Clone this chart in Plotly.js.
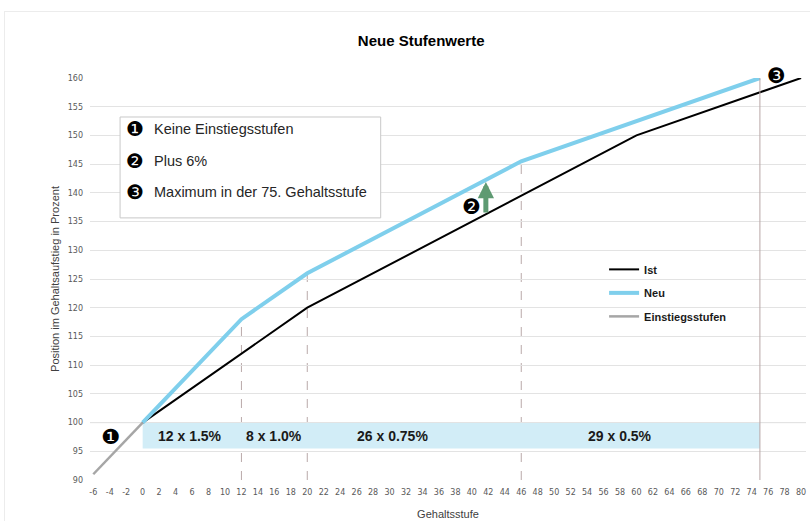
<!DOCTYPE html>
<html>
<head>
<meta charset="utf-8">
<script src="https://cdn.plot.ly/plotly-3.0.1.min.js"></script>
<style>
  html, body { margin: 0; padding: 0; background: #fff; }
  #frame { position: absolute; left: 4px; top: 11px; width: 820px; height: 530px; border: 1px solid #ececec; }
  #chart { position: absolute; left: 0; top: 0; width: 810px; height: 521px; }
</style>
</head>
<body>
<div id="frame"></div>
<div id="chart"></div>
<script>
// Data
const istX = [0, 20, 60, 80];
const istY = [100, 120, 150, 160];
const neuX = [0, 12, 20, 46, 75];
const neuY = [100, 118, 126, 145.5, 160];
const einX = [-6, 0];
const einY = [91, 100];
const bandLabels = ['12 x 1.5%', '8 x 1.0%', '26 x 0.75%', '29 x 0.5%'];
const bandLabelX = [5.8, 16, 30.4, 58];
const dashX = [12, 20, 46];
const dashTop = [118, 126, 145.5];
const maxStufe = 75;
const noteNums = ['\u2776', '\u2777', '\u2778'];
const noteTexts = ['Keine Einstiegsstufen', 'Plus 6%', 'Maximum in der 75. Gehaltsstufe'];
const xTickVals = [-6, -4, -2];
for (let v = 0; v <= 80; v += 2) xTickVals.push(v);
const xTickText = xTickVals.map(v => String(v));

const traces = [
  {x: istX, y: istY, name: 'Ist', mode: 'lines', line: {color: '#000000', width: 2}, legendgroup: 'a'},
  {x: neuX, y: neuY, name: 'Neu', mode: 'lines', line: {color: '#7fcfec', width: 4}, legendgroup: 'b'},
  {x: einX, y: einY, name: 'Einstiegsstufen', mode: 'lines', line: {color: '#a6a6a6', width: 2.5}, legendgroup: 'c'}
];

const shapes = [];
// dashed verticals
dashX.forEach((xv, i) => {
  shapes.push({type: 'line', xref: 'x', yref: 'y', x0: xv, x1: xv, y0: 90, y1: dashTop[i],
    line: {color: '#b9a9a9', width: 1, dash: 'dash'}, layer: 'below'});
});
// line at 100
shapes.push({type: 'line', xref: 'paper', yref: 'y', x0: 0, x1: 1, y0: 100, y1: 100,
  line: {color: '#a8a8a8', width: 1}, layer: 'below'});
// light blue band (covers dashed lines)
shapes.push({type: 'rect', xref: 'x', yref: 'y', x0: 0, x1: maxStufe, y0: 95.5, y1: 100,
  fillcolor: '#d2edf7', line: {width: 0}, layer: 'below'});
// maximum vertical
shapes.push({type: 'line', xref: 'x', yref: 'y', x0: maxStufe, x1: maxStufe, y0: 89.6, y1: 160,
  line: {color: '#b8a6a6', width: 1}, layer: 'above'});
// notes box
shapes.push({type: 'rect', xref: 'paper', yref: 'paper', x0: 0.042, x1: 0.406, y0: 0.652, y1: 0.903,
  fillcolor: '#ffffff', line: {color: '#c8c8c8', width: 1}, layer: 'above'});

const annotations = [];
bandLabels.forEach((t, i) => {
  annotations.push({x: bandLabelX[i], y: 97.6, xref: 'x', yref: 'y', text: t, showarrow: false,
    font: {family: 'Liberation Sans, Arial, sans-serif', size: 14, color: '#1a1a1a', weight: 'bold'}});
});
const noteY = [0.872, 0.793, 0.716];
noteTexts.forEach((t, i) => {
  annotations.push({x: 0.0635, y: noteY[i], xref: 'paper', yref: 'paper', text: noteNums[i], showarrow: false,
    xanchor: 'center', yanchor: 'middle',
    font: {family: 'DejaVu Sans', size: 20, color: '#000'}});
  annotations.push({x: 0.0865, y: noteY[i], xref: 'paper', yref: 'paper', text: t, showarrow: false,
    xanchor: 'left', yanchor: 'middle',
    font: {family: 'Liberation Sans, Arial, sans-serif', size: 14.5, color: '#262626'}});
});
// green arrow
annotations.push({x: 41.7, y: 141.9, ax: 41.7, ay: 136.3, xref: 'x', yref: 'y', axref: 'x', ayref: 'y',
  showarrow: true, arrowhead: 2, arrowsize: 0.65, arrowwidth: 5, arrowcolor: '#5e9a72', text: ''});
// circled markers
annotations.push({x: -3.9, y: 97.5, xref: 'x', yref: 'y', text: '\u2776', showarrow: false,
  xanchor: 'center', yanchor: 'middle',
  font: {family: 'DejaVu Sans', size: 21, color: '#000'}});
annotations.push({x: 39.9, y: 137.5, xref: 'x', yref: 'y', text: '\u2777', showarrow: false,
  xanchor: 'center', yanchor: 'middle',
  font: {family: 'DejaVu Sans', size: 21, color: '#000'}});
annotations.push({x: 77.0, y: 1.006, xref: 'x', yref: 'paper', text: '\u2778', showarrow: false,
  xanchor: 'center', yanchor: 'middle',
  font: {family: 'DejaVu Sans', size: 21, color: '#000'}});

const layout = {
  width: 810, height: 521,
  paper_bgcolor: 'rgba(0,0,0,0)', plot_bgcolor: 'rgba(0,0,0,0)',
  margin: {l: 90, r: 4, t: 78, b: 41},
  title: {text: 'Neue Stufenwerte', x: 0.52, xref: 'container', y: 0.921, yref: 'container', yanchor: 'middle',
    font: {family: 'Liberation Sans, Arial, sans-serif', size: 15, color: '#000', weight: 'bold'}},
  xaxis: {range: [-6.4, 80.6], tickmode: 'array', tickvals: xTickVals, ticktext: xTickText,
    showgrid: false, zeroline: false, showline: false,
    ticks: '', ticklabelstandoff: 6, tickfont: {family: 'DejaVu Sans', size: 8, color: '#595959'},
    title: {text: 'Gehaltsstufe', standoff: 14, font: {family: 'Liberation Sans, Arial, sans-serif', size: 11, color: '#404040'}}},
  yaxis: {range: [90, 160], dtick: 5, showgrid: true, gridcolor: '#e3e3e3', gridwidth: 1, zeroline: false, showline: false,
    ticks: '', ticklabelstandoff: 6, tickfont: {family: 'DejaVu Sans', size: 8, color: '#595959'},
    title: {text: 'Position im Gehaltsaufstieg in Prozent', standoff: 5, font: {family: 'Liberation Sans, Arial, sans-serif', size: 11, color: '#404040'}}},
  showlegend: true,
  legend: {x: 0.718, y: 0.56, xanchor: 'left', yanchor: 'top', bgcolor: 'rgba(0,0,0,0)',
    traceorder: 'grouped', tracegroupgap: 4.5,
    font: {family: 'Liberation Sans, Arial, sans-serif', size: 11, color: '#1a1a1a', weight: 'bold'}},
  shapes: shapes,
  annotations: annotations
};

Plotly.newPlot('chart', traces, layout, {displayModeBar: false, staticPlot: true});
</script>
</body>
</html>
